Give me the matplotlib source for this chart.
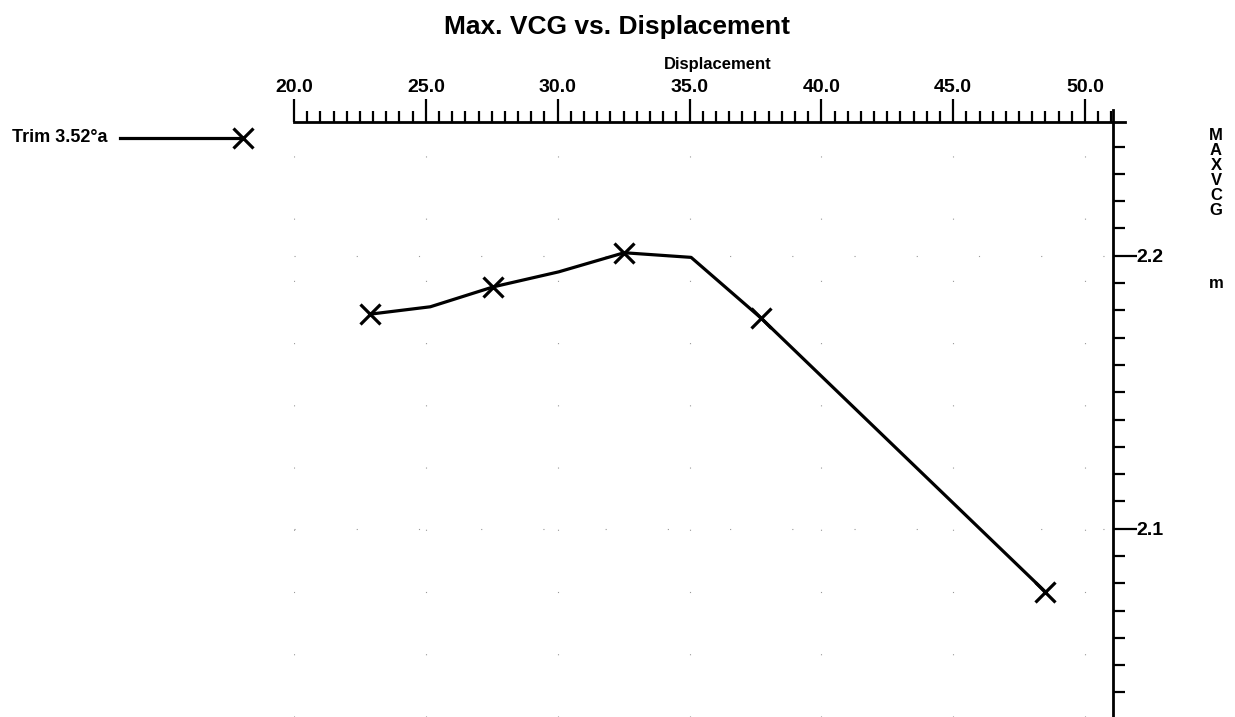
import matplotlib
matplotlib.use('agg')
import matplotlib.pyplot as plt
import matplotlib.ticker as ticker
from matplotlib.lines import Line2D

plt.rcParams['font.family'] = ['Liberation Sans', 'DejaVu Sans']
plt.rcParams['font.weight'] = 'bold'

# Max VCG vs displacement, trim 3.52 deg aft
displacement = [22.89, 25.17, 27.56, 30.04, 32.52, 35.06, 37.72, 48.49]
max_vcg = [2.1786, 2.1813, 2.1886, 2.1941, 2.2011, 2.1994, 2.1771, 2.0769]
marked = [0, 2, 4, 6, 7]
series_label = 'Trim 3.52°a'

fig = plt.figure(figsize=(12.35, 7.17), dpi=100)
ax = fig.add_axes([294 / 1235, 0.0, (1113 - 294) / 1235, 1 - 122 / 717])

ax.plot(displacement, max_vcg, color='black', lw=2.3,
        marker='x', markevery=marked, ms=14, mew=2.3, clip_on=False)

ax.set_xlim(20.0, 51.06)
ax.set_ylim(2.031, 2.249)

# axes on top and right only
ax.spines['left'].set_visible(False)
ax.spines['bottom'].set_visible(False)
for s in ('top', 'right'):
    ax.spines[s].set_linewidth(2.0)
ax.spines['top'].set_bounds(20.0, 51.5)
ax.spines['right'].set_bounds(2.031, 2.2535)

ax.xaxis.tick_top()
ax.yaxis.tick_right()
ax.xaxis.set_major_locator(ticker.MultipleLocator(5))
ax.xaxis.set_minor_locator(ticker.MultipleLocator(0.5))
ax.xaxis.set_major_formatter(ticker.FormatStrFormatter('%.1f'))
ax.yaxis.set_major_locator(ticker.MultipleLocator(0.1))
ax.yaxis.set_minor_locator(ticker.MultipleLocator(0.01))
ax.yaxis.set_major_formatter(ticker.FormatStrFormatter('%.1f'))

ax.tick_params(axis='x', which='major', direction='out', length=16.5, width=1.6,
               pad=2, labelsize=14)
ax.tick_params(axis='x', which='minor', direction='out', length=8, width=1.6)
ax.tick_params(axis='y', which='major', direction='out', length=17, width=1.6,
               pad=0, labelsize=14)
ax.tick_params(axis='y', which='minor', direction='out', length=8.5, width=1.6)
ax.tick_params(top=True, bottom=False, left=False, right=True,
               labeltop=True, labelbottom=False, labelleft=False, labelright=True,
               which='both')

# very faint, sparse dotted grid
ax.grid(True, which='major', color='#999999', lw=0.8, linestyle=(0, (1, 55)))

fig.text(617 / 1235, 1 - 27 / 717, 'Max. VCG vs. Displacement',
         ha='center', va='center', fontsize=19, fontweight='bold')
fig.text(718 / 1235, 1 - 64 / 717, 'Displacement',
         ha='center', va='center', fontsize=12, fontweight='bold')

fig.text(1216 / 1235, 1 - 128 / 717, 'M\nA\nX\nV\nC\nG',
         ha='center', va='top', fontsize=12, fontweight='bold', linespacing=1.0)
fig.text(1216 / 1235, 1 - 283 / 717, 'm',
         ha='center', va='center', fontsize=12, fontweight='bold')

# legend entry
fig.text(108 / 1235, 1 - 138 / 717, series_label,
         ha='right', va='center', fontsize=13, fontweight='bold')
fig.add_artist(Line2D([120 / 1235, 243 / 1235], [1 - 138 / 717, 1 - 138 / 717],
                      transform=fig.transFigure, color='black', lw=2.3,
                      marker='x', markevery=[1], ms=14, mew=2.3))

fig.savefig('out.png', dpi=100)
